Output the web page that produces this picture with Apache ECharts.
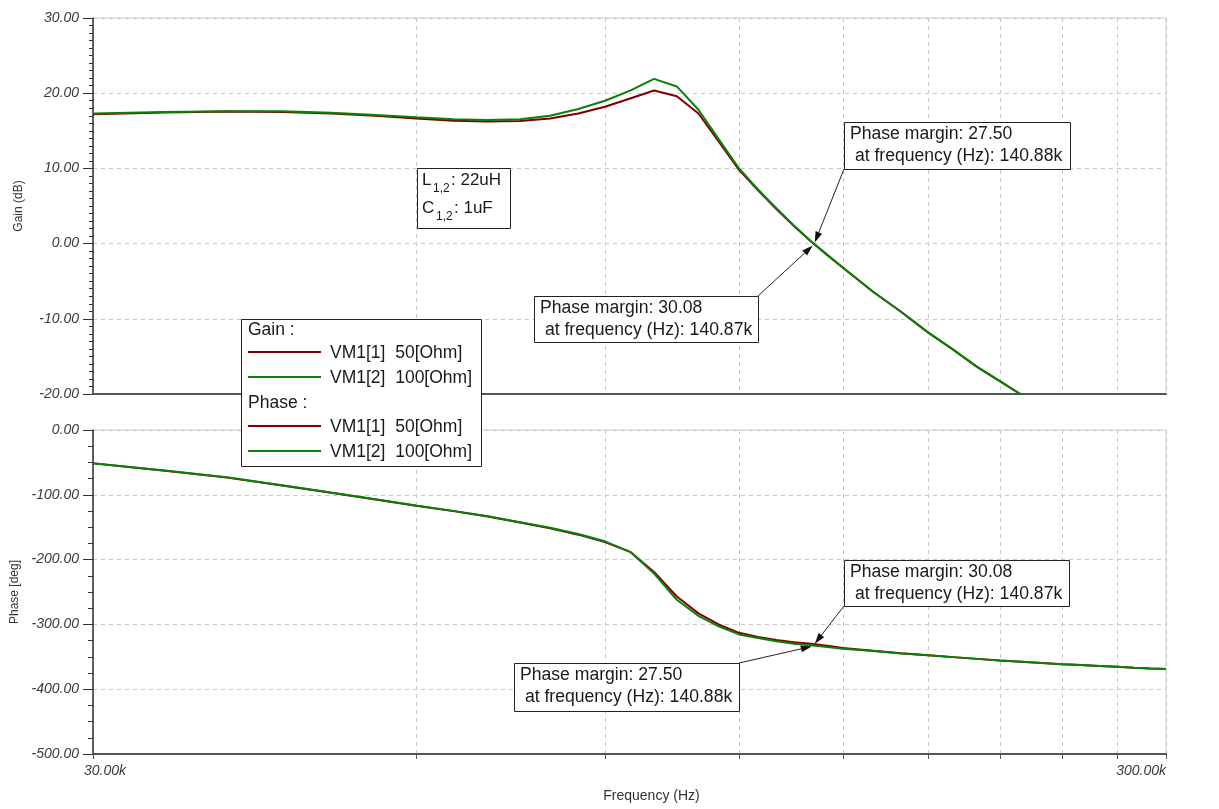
<!DOCTYPE html>
<html><head><meta charset="utf-8">
<script src="https://cdn.jsdelivr.net/npm/echarts@6/dist/echarts.min.js"></script>
<style>html,body{margin:0;padding:0;background:#fff}#c{width:1219px;height:809px}</style>
</head><body><div id="c"></div>
<script>
// ---- data ----
const freqKHz = [30,35,40,45,50,55,60,65,70,75,80,85,90,95,100,105,110,115,120,125,130,135,140,145,150,160,170,180,190,200,210,220,230,240,250,260,270,280,290,300];
const gain50  = [17.2,17.45,17.55,17.5,17.3,17.0,16.65,16.35,16.25,16.3,16.65,17.3,18.2,19.3,20.35,19.6,17.3,13.5,9.8,7.1,4.6,2.35,0.3,-1.5,-3.2,-6.4,-9.1,-11.8,-14.1,-16.4,-18.3,-20.1,null,null,null,null,null,null,null,null];
const gain100 = [17.3,17.5,17.6,17.6,17.4,17.1,16.8,16.55,16.45,16.55,17.0,17.9,19.0,20.35,21.9,20.9,17.8,13.8,10.0,7.2,4.7,2.4,0.3,-1.5,-3.2,-6.4,-9.1,-11.8,-14.1,-16.4,-18.3,-20.1,null,null,null,null,null,null,null,null];
const phase50  = [-51.5,-63,-73.5,-85.5,-97,-107.2,-116.8,-125.2,-133.5,-142.8,-151.5,-161.5,-173,-188,-219,-257,-283,-300.5,-313,-319.5,-324,-327.5,-329.8,-333,-336.5,-340.5,-344.5,-347.5,-350.5,-353.2,-355.7,-357.6,-359.5,-361.4,-362.8,-364.2,-365.5,-366.8,-368,-369];
const phase100 = [-51.2,-62.5,-73,-85.2,-96.6,-106.8,-116.4,-124.8,-133,-142.3,-151,-160.5,-171.8,-188,-221.5,-262,-287,-303.5,-315.5,-321,-326,-329.8,-332.3,-334.8,-337.4,-341,-344.8,-347.6,-350.5,-353.2,-355.7,-357.6,-359.5,-361.4,-362.8,-364.2,-365.5,-366.8,-368,-369];
const gridFreqKHz  = [30,60,90,120,150,180,210,240,270,300];
const labelFreqKHz = [30,300];
const gainRange  = [-20, 30, 10];
const phaseRange = [-500, 0, 100];
const seriesNames = ['VM1[1]  50[Ohm]', 'VM1[2]  100[Ohm]'];
// phase-margin notes: [phase margin, frequency kHz, label]
const pmGain  = [['27.50', 140.88, '140.88k'], ['30.08', 140.87, '140.87k']];
const pmPhase = [['30.08', 140.87, '140.87k', -329.92], ['27.50', 140.88, '140.88k', -332.5]];
const crossGainDb = 0;

// ---- chart ----
const RED = '#800000', GREEN = '#0a800a';
const FONT = '"Liberation Sans", Arial, sans-serif';
const lg = k => Math.log10(k * 1000);
const pts = (vs) => freqKHz.map((f, i) => [lg(f), vs[i]]);
const chart = echarts.init(document.getElementById('c'));

const xBase = (gi, showLab) => ({
  type: 'value', gridIndex: gi,
  min: lg(gridFreqKHz[0]), max: lg(gridFreqKHz[gridFreqKHz.length - 1]),
  axisLine: { show: true, onZero: false, lineStyle: { color: '#555', width: 2 } },
  axisTick: { show: showLab, inside: false, length: 5, customValues: gridFreqKHz.map(lg), lineStyle: { color: '#555' } },
  axisLabel: {
    show: showLab, customValues: labelFreqKHz.map(lg),
    formatter: v => (Math.pow(10, v) / 1000).toFixed(2) + 'k',
    fontStyle: 'italic', fontSize: 14, color: '#3a3a3a', fontFamily: FONT, margin: 10,
    alignMinLabel: 'center', alignMaxLabel: 'right', padding: [0, 0, 0, 24]
  },
  splitLine: { show: true, lineStyle: { color: '#c8c8c8', type: [4, 4], width: 1 } },
  name: showLab ? 'Frequency (Hz)' : '', nameLocation: 'middle', nameGap: 35,
  nameTextStyle: { fontSize: 14, color: '#333', fontFamily: FONT, padding: [0, 0, 0, 44] }
});
const yBase = (gi, r, minorSplit, minorLen, name) => ({
  type: 'value', gridIndex: gi, min: r[0], max: r[1], interval: r[2],
  axisLine: { show: true, lineStyle: { color: '#333', width: 1.5 } },
  axisTick: { show: true, length: 10, lineStyle: { color: '#333' } },
  minorTick: { show: true, splitNumber: minorSplit, length: minorLen, lineStyle: { color: '#333' } },
  axisLabel: { formatter: v => v.toFixed(2), fontStyle: 'italic', fontSize: 14, color: '#3a3a3a', fontFamily: FONT, margin: 14 },
  splitLine: { show: true, lineStyle: { color: '#c8c8c8', type: [4, 4], width: 1 } },
  name: name, nameLocation: 'middle', nameRotate: 90, nameGap: 68,
  nameTextStyle: { fontSize: 12, color: '#333', fontFamily: FONT }
});
const line = (name, color, xi, data) => ({
  type: 'line', name, xAxisIndex: xi, yAxisIndex: xi, data,
  showSymbol: false, symbol: 'none', clip: true,
  lineStyle: { color, width: 2 }, itemStyle: { color }
});

chart.setOption({
  animation: false,
  backgroundColor: '#fff',
  grid: [
    { left: 93, right: 53, top: 18, height: 376, show: true, borderColor: '#d0d0d0', borderWidth: 1, backgroundColor: '#fff' },
    { left: 93, right: 53, top: 430, height: 324, show: true, borderColor: '#d0d0d0', borderWidth: 1, backgroundColor: '#fff' }
  ],
  xAxis: [xBase(0, false), xBase(1, true)],
  yAxis: [yBase(0, gainRange, 10, 4, 'Gain (dB)'), yBase(1, phaseRange, 4, 5, 'Phase [deg]')],
  series: [
    line(seriesNames[0], RED, 0, pts(gain50)),
    line(seriesNames[1], GREEN, 0, pts(gain100)),
    line(seriesNames[0], RED, 1, pts(phase50)),
    line(seriesNames[1], GREEN, 1, pts(phase100))
  ]
});

// ---- annotations ----
const TXT = '#1a1a1a';
const txt = (x, y, text, size, extra) => Object.assign({
  type: 'text', x, y, z: 100,
  style: { text, fill: TXT, font: size + 'px ' + FONT, textAlign: 'left', textVerticalAlign: 'middle', align: 'left', verticalAlign: 'middle' }
}, extra || {});
const rect = (x, y, w, h) => ({ type: 'rect', z: 99, shape: { x: x + 0.5, y: y + 0.5, width: w, height: h }, style: { fill: '#fff', stroke: '#222', lineWidth: 1 } });
const hline = (x1, x2, y, color) => ({ type: 'line', z: 100, shape: { x1, y1: y, x2, y2: y }, style: { stroke: color, lineWidth: 2 } });
function arrow(x1, y1, x2, y2) {
  const dx = x2 - x1, dy = y2 - y1, len = Math.hypot(dx, dy), ux = dx / len, uy = dy / len;
  const bx = x2 - ux * 11, by = y2 - uy * 11, px = -uy * 3.5, py = ux * 3.5;
  return [
    { type: 'line', z: 100, shape: { x1, y1, x2: bx, y2: by }, style: { stroke: '#222', lineWidth: 1 } },
    { type: 'polygon', z: 100, shape: { points: [[x2, y2], [bx + px, by + py], [bx - px, by - py]] }, style: { fill: '#111' } }
  ];
}
function pmBox(x, y, w, h, pm, fLabel) {
  return [rect(x, y, w, h), txt(x + 6, y + 12, 'Phase margin: ' + pm, 17.6), txt(x + 6, y + 34, ' at frequency (Hz): ' + fLabel, 17.6)];
}

const g = [];
// L/C box
g.push(rect(417, 168, 93, 60));
g.push(txt(422, 180, 'L', 17), txt(433, 189, '1,2', 12), txt(451, 180, ': 22uH', 17));
g.push(txt(422, 208, 'C', 17), txt(436, 217, '1,2', 12), txt(454, 208, ': 1uF', 17));
// legend
g.push(rect(241, 319, 240, 147));
g.push(txt(248, 330, 'Gain :', 17.5));
g.push(hline(248, 321, 352, RED), txt(330, 353, seriesNames[0], 17.5));
g.push(hline(248, 321, 377, GREEN), txt(330, 378, seriesNames[1], 17.5));
g.push(txt(248, 403, 'Phase :', 17.5));
g.push(hline(248, 321, 426, RED), txt(330, 427, seriesNames[0], 17.5));
g.push(hline(248, 321, 451, GREEN), txt(330, 452, seriesNames[1], 17.5));

// gain plot notes
const pG = chart.convertToPixel({ xAxisIndex: 0, yAxisIndex: 0 }, [lg(pmGain[0][1]), crossGainDb]);
g.push(...pmBox(844, 122, 226, 47, pmGain[0][0], pmGain[0][2]));
g.push(...arrow(844, 169, pG[0] + 1, pG[1] - 1));
g.push(...pmBox(534, 296, 224, 46, pmGain[1][0], pmGain[1][2]));
g.push(...arrow(758, 296, pG[0] - 1, pG[1] + 2));
// phase plot notes
const pP1 = chart.convertToPixel({ xAxisIndex: 1, yAxisIndex: 1 }, [lg(pmPhase[0][1]), pmPhase[0][3]]);
const pP2 = chart.convertToPixel({ xAxisIndex: 1, yAxisIndex: 1 }, [lg(pmPhase[1][1]), pmPhase[1][3]]);
g.push(...pmBox(844, 560, 225, 46, pmPhase[0][0], pmPhase[0][2]));
g.push(...arrow(844, 606, pP1[0] + 1, pP1[1]));
g.push(...pmBox(514, 663, 225, 48, pmPhase[1][0], pmPhase[1][2]));
g.push(...arrow(739, 663, pP2[0] - 2, pP2[1] + 1));

chart.setOption({ graphic: { elements: g } });
</script></body></html>
